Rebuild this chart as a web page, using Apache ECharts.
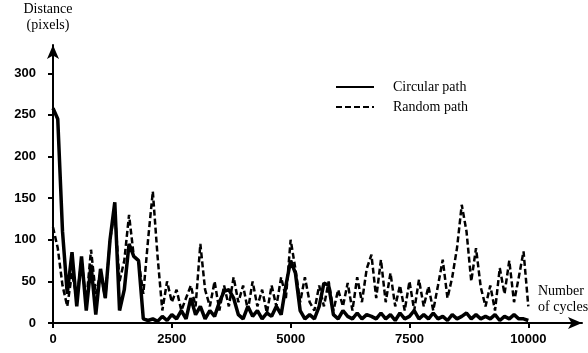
<!DOCTYPE html>
<html><head><meta charset="utf-8">
<script src="https://cdn.jsdelivr.net/npm/echarts@6/dist/echarts.min.js"></script>
<style>html,body{margin:0;padding:0;background:#fff}#c{width:588px;height:353px}</style>
</head><body><div id="c"></div><script>
const cycles = [0,100,200,300,400,500,600,700,800,900,1000,1100,1200,1300,1400,1500,1600,1700,1800,1900,2000,2100,2200,2300,2400,2500,2600,2700,2800,2900,3000,3100,3200,3300,3400,3500,3600,3700,3800,3900,4000,4100,4200,4300,4400,4500,4600,4700,4800,4900,5000,5100,5200,5300,5400,5500,5600,5700,5800,5900,6000,6100,6200,6300,6400,6500,6600,6700,6800,6900,7000,7100,7200,7300,7400,7500,7600,7700,7800,7900,8000,8100,8200,8300,8400,8500,8600,8700,8800,8900,9000,9100,9200,9300,9400,9500,9600,9700,9800,9900,10000];
const circularPath = [258,245,110,35,85,20,80,15,70,10,65,30,100,145,15,40,95,80,75,5,3,5,2,8,3,10,5,15,5,30,10,20,5,15,8,25,38,40,30,10,5,20,8,15,5,12,8,20,10,45,75,60,15,5,10,5,20,48,45,10,5,15,8,5,12,5,10,8,5,12,5,10,3,12,5,8,15,5,10,5,12,5,8,3,10,5,8,12,5,10,5,8,5,10,3,8,5,10,5,5,3];
const randomPath = [115,90,45,20,60,30,75,25,88,35,60,30,100,135,50,75,130,80,75,35,100,158,80,15,50,25,40,15,30,45,20,95,40,20,50,15,45,20,55,25,45,15,50,20,40,12,45,20,55,30,100,65,25,55,25,15,45,20,50,15,40,20,48,15,55,25,65,82,30,76,25,60,20,45,15,50,15,52,20,44,15,45,76,30,55,90,142,110,50,90,43,20,45,15,66,35,75,25,55,86,20];
const yTicks = [0,50,100,150,200,250,300];
const xTicks = [0,2500,5000,7500,10000];

const chart = echarts.init(document.getElementById('c'));
const serif = 'Liberation Serif';
const sans = 'Liberation Sans';
const xData = (vals) => cycles.map((c, i) => [c, vals[i]]);
const fmt = (v) => String(v);
const baseX = {
  type: 'value', min: 0, max: 11130, splitLine: {show: false},
  axisLine: {show: true, lineStyle: {color: '#000', width: 2}, symbol: ['none', 'arrow'], symbolSize: [9, 14]},
  axisTick: {show: true, customValues: xTicks, length: 5, lineStyle: {color: '#000', width: 2}},
  axisLabel: {customValues: xTicks, formatter: fmt, color: '#000', fontFamily: sans, fontWeight: 'bold', fontSize: 13, margin: 10}
};
const baseY = {
  type: 'value', min: 0, max: 334, splitLine: {show: false},
  axisLine: {show: true, lineStyle: {color: '#000', width: 2}, symbol: ['none', 'arrow'], symbolSize: [9, 14]},
  axisTick: {show: true, customValues: yTicks, length: 5, lineStyle: {color: '#000', width: 2}},
  axisLabel: {customValues: yTicks, formatter: fmt, color: '#000', fontFamily: sans, fontWeight: 'bold', fontSize: 13, margin: 17},
  name: 'Distance\n(pixels)', nameLocation: 'end', nameGap: 12,
  nameTextStyle: {color: '#000', fontFamily: serif, fontSize: 14, lineHeight: 16, align: 'center', padding: [0, 10, 0, 0]}
};
chart.setOption({
  animation: false,
  backgroundColor: '#fff',
  grid: {left: 53, right: 6, top: 45, bottom: 30},
  legend: {
    orient: 'vertical', left: 330, top: 75, itemWidth: 38, itemHeight: 12, itemGap: 6,
    itemStyle: {opacity: 0},
    textStyle: {color: '#000', fontFamily: serif, fontSize: 14, padding: [0, 0, 0, 14]},
    data: ['Circular path', 'Random path']
  },
  xAxis: [baseX, Object.assign({}, baseX, {
    axisLine: {show: false}, axisLabel: {show: false},
    axisTick: {show: true, inside: true, customValues: xTicks, length: 4, lineStyle: {color: '#000', width: 2}}
  })],
  yAxis: [baseY, Object.assign({}, baseY, {
    name: '', axisLine: {show: false}, axisLabel: {show: false},
    axisTick: {show: true, inside: true, customValues: yTicks, length: 5, lineStyle: {color: '#000', width: 2}}
  })],
  graphic: [
    {type: 'text', left: 538, top: 283, style: {text: 'Number\nof cycles', fill: '#000', font: '14px "Liberation Serif"', lineHeight: 16}}
  ],
  series: [
    {name: 'Random path', type: 'line', showSymbol: false, symbol: 'none', data: xData(randomPath),
     lineStyle: {color: '#000', width: 2.5, type: [6, 3]}, itemStyle: {color: '#000'}, z: 2},
    {name: 'Circular path', type: 'line', showSymbol: false, symbol: 'none', data: xData(circularPath),
     lineStyle: {color: '#000', width: 3.5, type: 'solid'}, itemStyle: {color: '#000'}, z: 3}
  ]
});
</script></body></html>
